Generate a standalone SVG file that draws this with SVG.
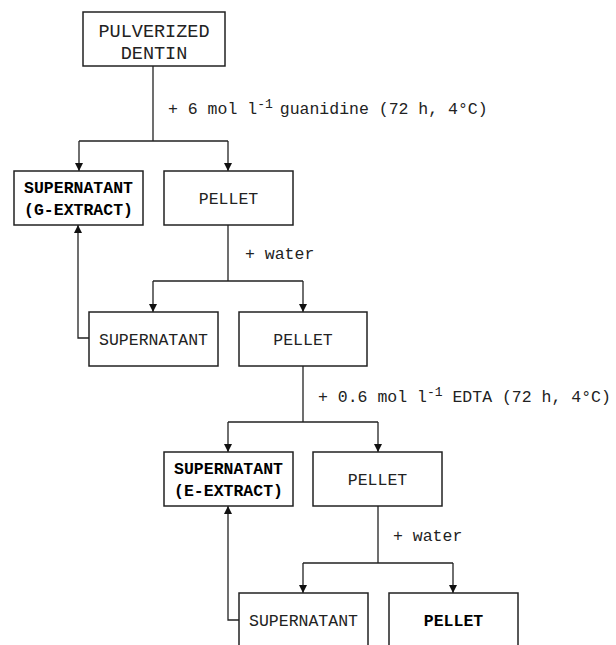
<svg xmlns="http://www.w3.org/2000/svg" width="616" height="645" viewBox="0 0 616 645">
<defs>
<style>
.box{fill:#fff;stroke:#222;stroke-width:1.5}
.t{font-family:"Liberation Mono","Courier New",monospace;font-size:16.5px;fill:#222;text-anchor:middle}
.big{font-size:18.5px}
.b{font-weight:bold;fill:#000}
.lbl{font-family:"Liberation Mono","Courier New",monospace;font-size:16.5px;fill:#222}
.sup{font-size:13px}
.c{fill:none;stroke:#222;stroke-width:1.3}
</style>
<marker id="ah" viewBox="0 0 10 10" refX="10" refY="5" markerWidth="8" markerHeight="8" markerUnits="userSpaceOnUse" orient="auto"><path d="M0,0 L10,5 L0,10 z" fill="#111"/></marker>
</defs>
<rect width="616" height="645" fill="#fff"/>
<g id="connectors">
<path class="c" d="M153,66 V141 M79,141 H228"/>
<path class="c" d="M79,141 V171" marker-end="url(#ah)"/>
<path class="c" d="M228,141 V171" marker-end="url(#ah)"/>
<path class="c" d="M228,225 V281 M153,281 H303"/>
<path class="c" d="M153,281 V312" marker-end="url(#ah)"/>
<path class="c" d="M303,281 V312" marker-end="url(#ah)"/>
<path class="c" d="M89,338 H78 V225" marker-end="url(#ah)"/>
<path class="c" d="M303,366 V422 M228,422 H378"/>
<path class="c" d="M228,422 V452" marker-end="url(#ah)"/>
<path class="c" d="M378,422 V452" marker-end="url(#ah)"/>
<path class="c" d="M378,506 V563 M303,563 H453"/>
<path class="c" d="M303,563 V593" marker-end="url(#ah)"/>
<path class="c" d="M453,563 V593" marker-end="url(#ah)"/>
<path class="c" d="M239,620 H228 V506" marker-end="url(#ah)"/>
</g>
<g id="labels">
<text class="lbl" x="168" y="114">+ 6 mol l<tspan class="sup" dy="-6">-1</tspan><tspan dx="7" dy="6">guanidine (72 h, 4°C)</tspan></text>
<text class="lbl" x="245" y="259">+ water</text>
<text class="lbl" x="318" y="402">+ 0.6 mol l<tspan class="sup" dy="-6">-1</tspan><tspan dy="6"> EDTA (72 h, 4°C)</tspan></text>
<text class="lbl" x="393" y="541">+ water</text>
</g>
<g id="dentin"><rect class="box" x="83" y="12" width="142" height="54"/><text class="t big" x="154" y="37">PULVERIZED</text><text class="t big" x="154" y="59">DENTIN</text></g>
<g id="g-extract"><rect class="box" x="14" y="171" width="129" height="54"/><text class="t b" x="78.5" y="192.5">SUPERNATANT</text><text class="t b" x="78.5" y="214.5">(G-EXTRACT)</text></g>
<g id="pellet1"><rect class="box" x="164" y="171" width="129" height="54"/><text class="t" x="228.5" y="203.5">PELLET</text></g>
<g id="supernatant2"><rect class="box" x="89" y="312" width="129" height="54"/><text class="t" x="153.5" y="344.5">SUPERNATANT</text></g>
<g id="pellet2"><rect class="box" x="239" y="312" width="128" height="54"/><text class="t" x="303" y="344.5">PELLET</text></g>
<g id="e-extract"><rect class="box" x="164" y="452" width="129" height="54"/><text class="t b" x="228.5" y="474">SUPERNATANT</text><text class="t b" x="228.5" y="496">(E-EXTRACT)</text></g>
<g id="pellet3"><rect class="box" x="313" y="452" width="129" height="54"/><text class="t" x="377.5" y="485">PELLET</text></g>
<g id="supernatant4"><rect class="box" x="239" y="593" width="129" height="56"/><text class="t" x="303.5" y="626">SUPERNATANT</text></g>
<g id="pellet4"><rect class="box" x="389" y="593" width="129" height="56"/><text class="t b" x="453.5" y="626">PELLET</text></g>
</svg>
